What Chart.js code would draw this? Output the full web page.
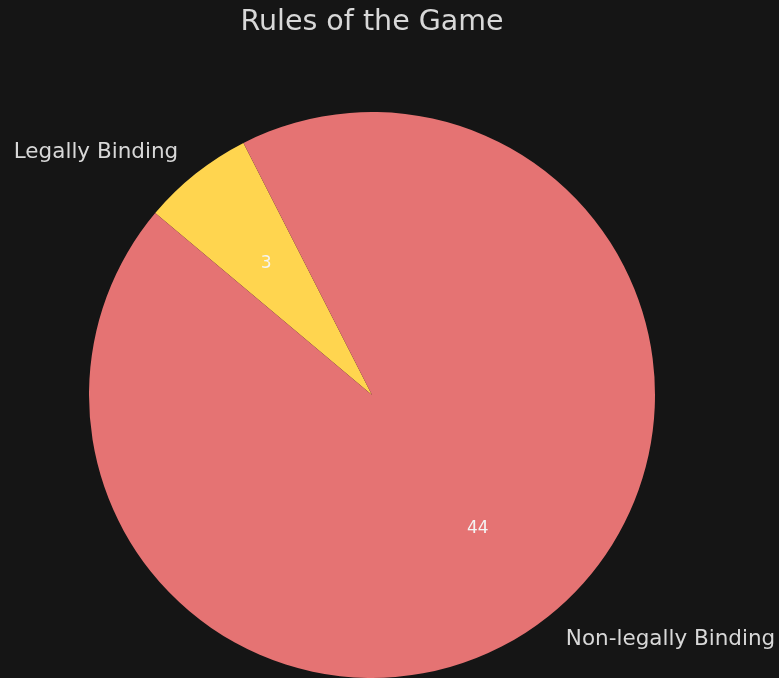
<!DOCTYPE html>
<html>
<head>
<meta charset="utf-8">
<script src="https://cdn.jsdelivr.net/npm/chart.js@4/dist/chart.umd.min.js"></script>
<style>
    html, body { margin: 0; padding: 0; background: #151515; }
    canvas { display: block; }
</style>
</head>
<body>
<canvas id="pieChart" width="779" height="678"></canvas>
<script>
const chartTitle = "Rules of the Game";
const categories = ["Legally Binding", "Non-legally Binding"];
const counts = [3, 44];
const sliceColors = ["#ffd54f", "#e57373"];

const FONT = "'DejaVu Sans', sans-serif";
const TEXT_COLOR = "#d8d8d8";

// Title, outer category labels (1.1 r) and value labels (0.6 r), like matplotlib's pie
const pieLabels = {
    id: 'pieLabels',
    afterDraw(chart) {
        const ctx = chart.ctx;
        const arcs = chart.getDatasetMeta(0).data;

        ctx.save();
        ctx.fillStyle = TEXT_COLOR;
        ctx.font = `28.5px ${FONT}`;
        ctx.textAlign = 'center';
        ctx.textBaseline = 'middle';
        ctx.fillText(chartTitle, 372, 23);

        arcs.forEach((arc, i) => {
            const mid = (arc.startAngle + arc.endAngle) / 2;
            const r = arc.outerRadius;
            const cx = Math.cos(mid), cy = Math.sin(mid);

            ctx.font = `21.5px ${FONT}`;
            ctx.fillStyle = TEXT_COLOR;
            ctx.textAlign = cx >= 0 ? 'left' : 'right';
            ctx.fillText(categories[i], arc.x + cx * r * 1.1, arc.y + cy * r * 1.1 + 1);

            ctx.font = `17px ${FONT}`;
            ctx.fillStyle = '#f4f4f4';
            ctx.textAlign = 'center';
            ctx.fillText(String(counts[i]), arc.x + cx * r * 0.6, arc.y + cy * r * 0.6 + 1);
        });
        ctx.restore();
    }
};

new Chart(document.getElementById('pieChart'), {
    type: 'pie',
    data: {
        labels: categories,
        datasets: [{
            data: counts,
            backgroundColor: sliceColors,
            borderWidth: 0
        }]
    },
    options: {
        responsive: false,
        animation: false,
        rotation: -50,
        layout: { padding: { left: 89, top: 112, right: 124, bottom: 0 } },
        plugins: {
            legend: { display: false },
            tooltip: { enabled: false }
        }
    },
    plugins: [pieLabels]
});
</script>
</body>
</html>
